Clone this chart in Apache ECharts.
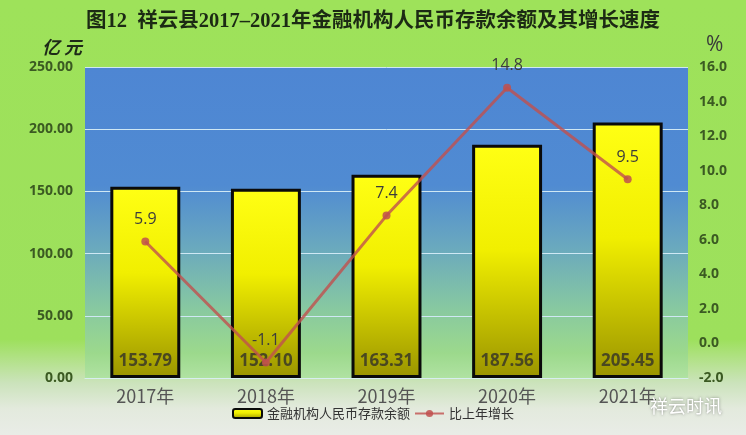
<!DOCTYPE html>
<html>
<head>
<meta charset="utf-8">
<script src="https://cdn.jsdelivr.net/npm/echarts@6/dist/echarts.min.js"></script>
<style>
html,body{margin:0;padding:0;}
#main{width:746px;height:435px;}
</style>
</head>
<body>
<div id="main"></div>
<script>
var categories = ['2017年', '2018年', '2019年', '2020年', '2021年'];
var depositValues = [153.79, 152.10, 163.31, 187.56, 205.45];
var growthValues = [5.9, -1.1, 7.4, 14.8, 9.5];
var seriesNames = ['金融机构人民币存款余额', '比上年增长'];
var titleText = '图12  祥云县2017\u20132021年金融机构人民币存款余额及其增长速度';

var chart = echarts.init(document.getElementById('main'));
var lg = echarts.graphic.LinearGradient;
chart.setOption({
  backgroundColor: new lg(0, 0, 0, 1, [
    {offset: 0, color: '#9ee25a'},
    {offset: 0.78, color: '#9de05c'},
    {offset: 0.88, color: '#cbe3bb'},
    {offset: 0.94, color: '#e3eadd'},
    {offset: 1, color: '#e9ece7'}
  ]),
  title: {
    text: titleText,
    left: 'center',
    top: 6,
    textStyle: {
      fontFamily: '"Liberation Serif", "Noto Sans CJK SC", serif',
      fontWeight: 'bold',
      fontSize: 20.5,
      color: '#1c2a14'
    }
  },
  legend: {
    bottom: 10,
    left: 'center',
    itemWidth: 29,
    itemHeight: 9,
    itemGap: 4,
    textStyle: {fontSize: 13, color: '#333', fontFamily: '"Noto Sans CJK SC", sans-serif'},
    data: seriesNames
  },
  grid: {
    left: 85, right: 58, top: 67, bottom: 57,
    show: true,
    borderWidth: 0,
    backgroundColor: new lg(0, 0, 0, 1, [
      {offset: 0, color: '#4e86d3'},
      {offset: 0.38, color: '#508bd2'},
      {offset: 0.58, color: '#6aa9be'},
      {offset: 0.78, color: '#88c9a0'},
      {offset: 0.92, color: '#9cd98c'},
      {offset: 1, color: '#b0e2a2'}
    ])
  },
  xAxis: {
    type: 'category',
    data: categories,
    axisLine: {show: true, lineStyle: {color: '#d8eef0', width: 1}},
    axisTick: {show: false},
    axisLabel: {
      fontSize: 18, color: '#555', margin: 9,
      fontFamily: '"Noto Sans CJK SC", sans-serif'
    }
  },
  yAxis: [{
    type: 'value',
    min: 0, max: 250, interval: 50,
    name: '亿 元',
    nameLocation: 'end',
    nameGap: 11,
    nameTextStyle: {
      align: 'right', fontSize: 18, fontWeight: 'bold', fontStyle: 'italic',
      color: '#1e2a18', padding: [0, 3, 0, 0],
      fontFamily: '"Noto Sans CJK SC", sans-serif'
    },
    axisLine: {show: false},
    axisTick: {show: false},
    splitLine: {show: true, lineStyle: {color: '#cfe8f4', width: 1}},
    axisLabel: {
      fontSize: 14, fontWeight: 'bold', color: '#3b5a22', margin: 12,
      fontFamily: '"Open Sans", sans-serif',
      formatter: function (v) { return v.toFixed(2); }
    }
  }, {
    type: 'value',
    min: -2, max: 16, interval: 2,
    name: '%',
    nameLocation: 'end',
    nameGap: 11,
    nameTextStyle: {
      align: 'left', fontSize: 21, color: '#3a3a3a', padding: [0, 0, 0, 18],
      fontFamily: '"Open Sans", sans-serif'
    },
    axisLine: {show: false},
    axisTick: {show: false},
    splitLine: {show: false},
    axisLabel: {
      fontSize: 14, fontWeight: 'bold', color: '#3b5a22', margin: 11,
      fontFamily: '"Open Sans", sans-serif',
      formatter: function (v) { return v.toFixed(1); }
    }
  }],
  series: [{
    name: seriesNames[0],
    type: 'bar',
    yAxisIndex: 0,
    data: depositValues,
    barWidth: '58%',
    itemStyle: {
      color: new lg(0, 0, 0, 1, [
        {offset: 0, color: '#ffff14'},
        {offset: 0.45, color: '#f1ef00'},
        {offset: 1, color: '#9a9400'}
      ]),
      borderColor: '#0a0a0a',
      borderWidth: 3
    },
    label: {
      show: true,
      position: 'insideBottom',
      distance: 8,
      fontSize: 17,
      fontWeight: 'bold',
      color: '#4a4820',
      fontFamily: '"Open Sans", sans-serif',
      formatter: function (p) { return p.value.toFixed(2); }
    }
  }, {
    name: seriesNames[1],
    type: 'line',
    yAxisIndex: 1,
    data: growthValues,
    symbol: 'circle',
    symbolSize: 8,
    lineStyle: {color: 'rgba(192,80,77,0.8)', width: 3},
    itemStyle: {color: 'rgba(192,80,77,0.85)'},
    label: {
      show: true,
      position: 'top',
      distance: 10,
      fontSize: 16,
      color: '#3c3c3c',
      fontFamily: '"Open Sans", sans-serif',
      formatter: function (p) { return p.value.toFixed(1); }
    }
  }],
  graphic: [{
    type: 'text',
    right: 24,
    bottom: 20,
    z: 100,
    style: {
      text: '祥云时讯',
      fontSize: 18,
      fill: '#ffffff',
      fontFamily: '"Noto Sans CJK SC", sans-serif',
      textShadowColor: 'rgba(0,0,0,0.45)',
      textShadowBlur: 3
    }
  }]
});
</script>
</body>
</html>
